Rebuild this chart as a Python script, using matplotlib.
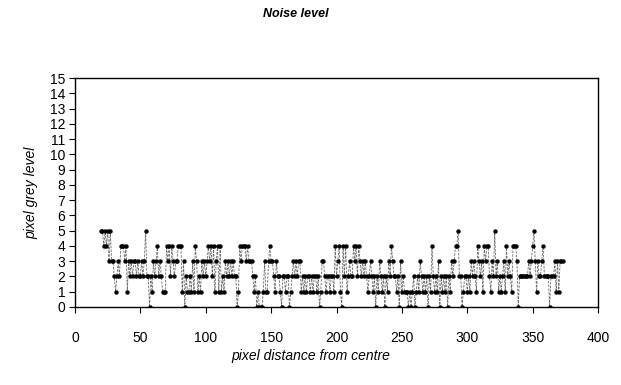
"""
Noise level: pixel grey level against pixel distance from centre.
"""
import matplotlib
matplotlib.use('Agg')
import matplotlib.pyplot as plt

plt.rcParams['font.family'] = ['Liberation Sans', 'DejaVu Sans']

# distance from centre (pixels) and grey level
start_distance = 20
grey_level = [
    5, 5, 4, 5, 4, 5, 3, 5, 3, 3,   # 20-29
    2, 1, 2, 3, 2, 4, 4, 4, 3, 4,   # 30-39
    1, 3, 2, 3, 2, 3, 3, 2, 3, 2,   # 40-49
    2, 3, 2, 3, 5, 2, 2, 0, 2, 1,   # 50-59
    3, 2, 3, 4, 2, 3, 2, 1, 1, 1,   # 60-69
    4, 3, 4, 2, 4, 3, 2, 3, 3, 4,   # 70-79
    4, 4, 1, 3, 0, 2, 1, 1, 2, 1,   # 80-89
    3, 1, 4, 3, 1, 2, 1, 3, 2, 3,   # 90-99
    2, 3, 4, 3, 4, 2, 4, 1, 3, 4,   # 100-109
    1, 4, 1, 2, 1, 3, 2, 3, 2, 3,   # 110-119
    2, 3, 2, 2, 0, 1, 4, 3, 4, 4,   # 120-129
    4, 3, 4, 3, 3, 3, 2, 1, 2, 0,   # 130-139
    1, 0, 0, 0, 1, 3, 1, 1, 3, 4,   # 140-149
    3, 3, 2, 1, 3, 2, 2, 1, 0, 2,   # 150-159
    2, 1, 2, 2, 0, 1, 2, 3, 2, 3,   # 160-169
    2, 3, 3, 1, 2, 1, 2, 1, 2, 2,   # 170-179
    1, 2, 1, 2, 2, 1, 2, 0, 1, 3,   # 180-189
    3, 2, 1, 2, 2, 1, 2, 2, 1, 4,   # 190-199
    2, 3, 4, 1, 0, 4, 2, 4, 1, 2,   # 200-209
    3, 2, 2, 4, 3, 4, 2, 4, 3, 2,   # 210-219
    3, 2, 3, 2, 1, 2, 3, 2, 1, 2,   # 220-229
    0, 2, 1, 3, 2, 1, 2, 0, 2, 1,   # 230-239
    3, 2, 4, 3, 2, 2, 1, 2, 0, 3,   # 240-249
    1, 2, 1, 1, 1, 0, 1, 0, 1, 2,   # 250-259
    0, 1, 2, 1, 3, 2, 1, 2, 1, 2,   # 260-269
    0, 2, 1, 4, 2, 1, 2, 1, 3, 0,   # 270-279
    2, 1, 2, 1, 2, 0, 2, 1, 3, 2,   # 280-289
    3, 4, 4, 5, 2, 2, 0, 1, 2, 2,   # 290-299
    1, 2, 1, 3, 2, 3, 2, 1, 4, 3,   # 300-309
    2, 3, 1, 4, 3, 4, 4, 2, 1, 3,   # 310-319
    2, 5, 2, 3, 1, 2, 1, 2, 3, 1,   # 320-329
    4, 2, 3, 2, 1, 4, 4, 4, 3, 0,   # 330-339
    2, 2, 2, 2, 2, 2, 2, 3, 2, 3,   # 340-349
    4, 5, 3, 1, 3, 2, 2, 3, 4, 2,   # 350-359
    2, 2, 2, 0, 2, 2, 2, 3, 1, 3,   # 360-369
    1, 3, 3, 3,                     # 370-373
]
distance = list(range(start_distance, start_distance + len(grey_level)))

x_ticks = list(range(0, 401, 50))
y_ticks = list(range(0, 16))

fig = plt.figure(figsize=(6.21, 3.85), dpi=100)
ax = fig.add_axes([0.1208, 0.2026, 0.8422, 0.5948])

ax.plot(distance, grey_level, color='#6a6a6a', linewidth=0.6, linestyle=(0, (3, 1.5)),
        marker='o', markersize=2.8, markerfacecolor='black', markeredgecolor='black',
        markeredgewidth=0.3)

ax.set_xlim(0, 400)
ax.set_ylim(0, 15)
ax.set_xticks(x_ticks)
ax.set_yticks(y_ticks)
ax.tick_params(axis='x', direction='out', length=4, width=0.8, pad=13, labelsize=10)
ax.tick_params(axis='y', direction='out', length=4, width=0.8, pad=3, labelsize=10)
for spine in ax.spines.values():
    spine.set_linewidth(1.0)
    spine.set_color('black')

fig.text(0.477, 0.963, 'Noise level', ha='center', va='center',
         fontsize=9, fontweight='bold', fontstyle='italic')
fig.text(0.5, 0.075, 'pixel distance from centre', ha='center', va='center',
         fontsize=10, fontstyle='italic')
fig.text(0.05, 0.5, 'pixel grey level', ha='center', va='center', rotation=90,
         fontsize=10, fontstyle='italic')

fig.savefig('out.png', dpi=100)
